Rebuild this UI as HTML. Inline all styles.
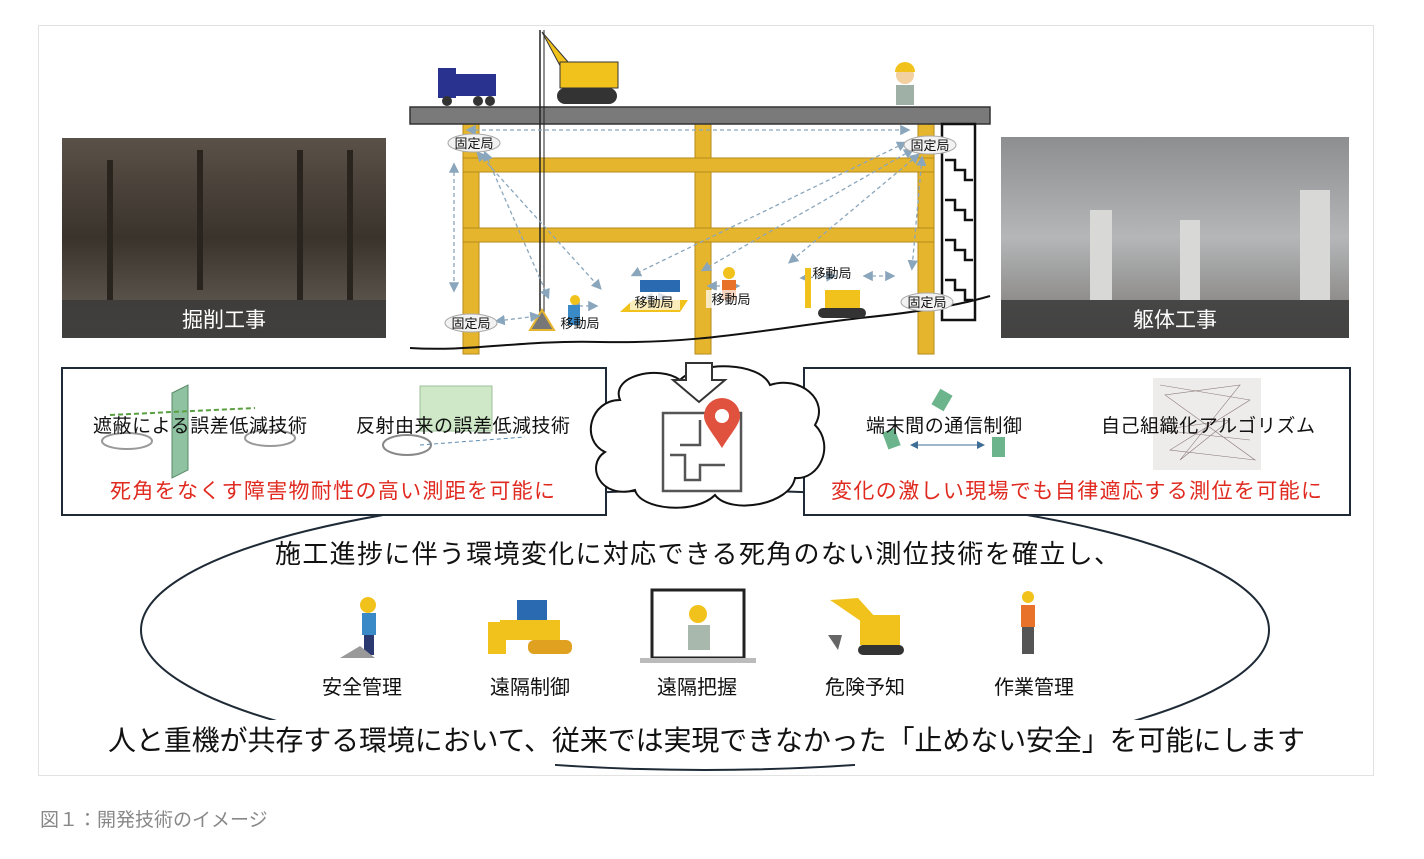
<!DOCTYPE html>
<html><head><meta charset="utf-8"><style>
html,body{margin:0;padding:0;background:#fff;}
svg text{font-family:"Liberation Sans","Noto Sans CJK JP",sans-serif;}
</style></head><body>
<svg width="1424" height="854" viewBox="0 0 1424 854" xmlns="http://www.w3.org/2000/svg">
<defs>
<marker id="a" markerWidth="8" markerHeight="8" refX="6" refY="4" orient="auto-start-reverse"><path d="M0,0L8,4L0,8z" fill="#8aa6bc"/></marker>
<marker id="b" markerWidth="8" markerHeight="8" refX="6" refY="4" orient="auto-start-reverse"><path d="M0,0L8,4L0,8z" fill="#3e6d96"/></marker>
<linearGradient id="pl" x1="0" y1="0" x2="0" y2="1"><stop offset="0" stop-color="#5a5148"/><stop offset="0.5" stop-color="#3a332c"/><stop offset="1" stop-color="#6a645c"/></linearGradient>
<linearGradient id="pr" x1="0" y1="0" x2="0" y2="1"><stop offset="0" stop-color="#8c8e90"/><stop offset="0.5" stop-color="#b4b6b8"/><stop offset="1" stop-color="#7a7672"/></linearGradient>
</defs>
<rect x="38.5" y="25.5" width="1335" height="750" fill="#fff" stroke="#e2e2e2"/>

<rect x="62" y="138" width="324" height="200" fill="url(#pl)"/>
<g stroke="#2a241e" stroke-width="6"><line x1="110" y1="160" x2="110" y2="300"/><line x1="200" y1="150" x2="200" y2="290"/><line x1="300" y1="150" x2="300" y2="300"/><line x1="350" y1="150" x2="350" y2="300"/></g>
<rect x="62" y="300" width="324" height="38" fill="#3a3a3a" opacity="0.85"/>
<text x="224" y="327" font-size="21" fill="#fff" text-anchor="middle">掘削工事</text>
<rect x="1001" y="137" width="348" height="201" fill="url(#pr)"/>
<g fill="#d8d8d6"><rect x="1090" y="210" width="22" height="90"/><rect x="1180" y="220" width="20" height="80"/><rect x="1300" y="190" width="30" height="110"/></g>
<rect x="1001" y="300" width="348" height="38" fill="#3a3a3a" opacity="0.85"/>
<text x="1175" y="327" font-size="21" fill="#fff" text-anchor="middle">躯体工事</text>

<g fill="#e6b52e" stroke="#b58a1a" stroke-width="1">
<rect x="463" y="124" width="16" height="230"/><rect x="695" y="124" width="16" height="230"/><rect x="918" y="124" width="16" height="230"/>
<rect x="463" y="158" width="471" height="14"/><rect x="463" y="228" width="471" height="14"/>
</g>
<rect x="410" y="107" width="580" height="17" fill="#7a7a7a" stroke="#333" stroke-width="1.5"/>
<g fill="none" stroke="#111" stroke-width="2.5"><rect x="942" y="124" width="33" height="196"/>
<path d="M945,160h10v10h10v10h8 M945,200h10v10h10v10h8 M945,240h10v10h10v10h8 M945,280h10v10h10v10h8"/></g>
<path d="M410,348 C470,352 520,340 600,342 C700,344 760,330 860,318 C920,312 960,305 990,296" fill="none" stroke="#111" stroke-width="2"/>
<line x1="540" y1="30" x2="540" y2="325" stroke="#222" stroke-width="1.5"/><line x1="544" y1="30" x2="544" y2="325" stroke="#222" stroke-width="1"/>
<polygon points="530,330 542,310 554,330" fill="#777" stroke="#e6b52e" stroke-width="2"/>
<path d="M542,32 L575,70 L565,75 Z" fill="#f2c21c" stroke="#333"/>
<rect x="560" y="62" width="58" height="26" fill="#f2c21c" stroke="#333"/>
<rect x="557" y="88" width="60" height="16" rx="8" fill="#333"/>
<rect x="438" y="68" width="18" height="30" fill="#2a3290"/><rect x="456" y="74" width="40" height="22" fill="#2a3290"/>
<circle cx="447" cy="101" r="5" fill="#333"/><circle cx="478" cy="101" r="5" fill="#333"/><circle cx="490" cy="101" r="5" fill="#333"/>
<circle cx="905" cy="75" r="9" fill="#f2d0a0"/><path d="M895,72 a10,10 0 0 1 20,0z" fill="#f2c21c"/><rect x="896" y="85" width="18" height="20" fill="#9fb0a6"/>

<g stroke="#8aa6bc" stroke-width="1.3" stroke-dasharray="4,3" fill="none" marker-start="url(#a)" marker-end="url(#a)">
<line x1="468" y1="130" x2="908" y2="130"/>
<line x1="454" y1="165" x2="454" y2="290"/>
<line x1="478" y1="153" x2="600" y2="288"/>
<line x1="485" y1="153" x2="548" y2="297"/>
<line x1="905" y1="143" x2="633" y2="275"/>
<line x1="912" y1="150" x2="703" y2="270"/>
<line x1="918" y1="155" x2="790" y2="262"/>
<line x1="922" y1="158" x2="912" y2="268"/>
<line x1="497" y1="321" x2="538" y2="316"/>
<line x1="572" y1="306" x2="596" y2="306"/>
<line x1="645" y1="298" x2="666" y2="297"/>
<line x1="709" y1="286" x2="738" y2="286"/>
<line x1="802" y1="278" x2="834" y2="276"/>
<line x1="865" y1="276" x2="893" y2="276"/>
</g>
<rect x="640" y="280" width="40" height="12" fill="#2a6ab0"/><path d="M620,312 l60,0 l8,-12 l-55,0z" fill="#f2c21c"/>
<rect x="805" y="268" width="6" height="40" fill="#f2c21c"/><rect x="825" y="290" width="35" height="18" fill="#f2c21c"/><rect x="818" y="308" width="48" height="10" rx="5" fill="#333"/>
<rect x="722" y="280" width="14" height="20" fill="#e8722a"/><circle cx="729" cy="273" r="6" fill="#f2c21c"/>
<rect x="568" y="305" width="12" height="20" fill="#3a8ac8"/><circle cx="575" cy="300" r="5" fill="#f2c21c"/>
<g font-size="13" text-anchor="middle" fill="#111">
<g fill="#f2f2f2" stroke="#aaa" stroke-width="1"><ellipse cx="474" cy="143" rx="26" ry="9"/><ellipse cx="930" cy="145" rx="26" ry="9"/><ellipse cx="471" cy="323" rx="26" ry="9"/><ellipse cx="927" cy="302" rx="26" ry="9"/></g>
<text x="474" y="148">固定局</text><text x="930" y="150">固定局</text><text x="471" y="328">固定局</text><text x="927" y="307">固定局</text>
<rect x="630" y="292" width="50" height="18" fill="#fff" opacity="0.7"/><rect x="706" y="290" width="50" height="18" fill="#fff" opacity="0.7"/>
<text x="654" y="307">移動局</text><text x="731" y="304">移動局</text><text x="832" y="278">移動局</text><text x="580" y="328">移動局</text>
</g>

<ellipse cx="705" cy="630" rx="564" ry="140" fill="none" stroke="#1e2a36" stroke-width="2"/>
<rect x="100" y="720" width="1215" height="40" fill="#fff"/>
<rect x="100" y="755" width="455" height="20" fill="#fff"/>
<rect x="855" y="755" width="460" height="20" fill="#fff"/>
<rect x="62" y="368" width="544" height="147" fill="#fff" stroke="#1e2a36" stroke-width="2"/>
<rect x="804" y="368" width="546" height="147" fill="#fff" stroke="#1e2a36" stroke-width="2"/>
<polygon points="172,393 188,385 188,470 172,478" fill="#8fc2a0" stroke="#5a8a6a"/>
<line x1="110" y1="415" x2="255" y2="408" stroke="#5aa040" stroke-dasharray="5,3" stroke-width="2"/>
<ellipse cx="127" cy="441" rx="25" ry="8" fill="none" stroke="#999" stroke-width="2"/><ellipse cx="270" cy="438" rx="25" ry="8" fill="none" stroke="#999" stroke-width="2"/>
<rect x="420" y="386" width="72" height="45" fill="#cfe8c8" stroke="#9cc09a"/>
<ellipse cx="407" cy="445" rx="24" ry="10" fill="none" stroke="#888" stroke-width="2"/>
<line x1="420" y1="445" x2="525" y2="437" stroke="#5a8ab0" stroke-dasharray="4,3"/>
<g font-size="19" fill="#111"><text x="93" y="432" textLength="214">遮蔽による誤差低減技術</text><text x="356" y="432" textLength="214">反射由来の誤差低減技術</text></g>
<text x="110" y="498" font-size="21" fill="#e02a20" textLength="445">死角をなくす障害物耐性の高い測距を可能に</text>
<g fill="#6cb48c"><rect x="935" y="391" width="14" height="18" transform="rotate(30 942 400)"/><rect x="885" y="430" width="13" height="18" transform="rotate(-20 891 439)"/><rect x="992" y="437" width="13" height="20"/></g>
<line x1="912" y1="445" x2="983" y2="445" stroke="#3e6d96" marker-start="url(#b)" marker-end="url(#b)"/>
<rect x="1153" y="378" width="108" height="92" fill="#eeeceb"/>
<g stroke="#8a7a78" stroke-width="0.6" fill="none"><path d="M1160,385 L1250,400 L1170,450 L1255,460 L1165,395 L1240,385 L1180,460 L1230,420 L1160,430 L1250,440"/></g>
<g font-size="19" fill="#111"><text x="866" y="432" textLength="156">端末間の通信制御</text><text x="1101" y="432" textLength="214">自己組織化アルゴリズム</text></g>
<text x="831" y="498" font-size="21" fill="#e02a20" textLength="491">変化の激しい現場でも自律適応する測位を可能に</text>

<path d="M620,400 C610,375 660,365 680,380 C700,360 760,362 770,385 C800,375 830,400 815,425 C835,445 820,480 795,478 C790,505 730,515 715,495 C695,515 640,510 635,490 C600,500 585,465 605,452 C580,440 590,400 620,400 Z" fill="#fff" stroke="#111" stroke-width="2"/>
<path d="M686,363 h26 v17 h13 l-26,22 l-26,-22 h13 z" fill="#fff" stroke="#333" stroke-width="2"/>
<rect x="663" y="413" width="78" height="78" fill="#fff" stroke="#555" stroke-width="2.5"/>
<path d="M670,455 h15 v25 h15 v-15 h25 M700,420 v25 h-20" fill="none" stroke="#555" stroke-width="2.5"/>
<path d="M722,448 C712,432 704,424 704,416 a18,18 0 0 1 36,0 C740,424 732,432 722,448z" fill="#e0523e"/><circle cx="722" cy="416" r="7" fill="#fff"/>

<text x="275" y="563" font-size="26" fill="#111" textLength="845">施工進捗に伴う環境変化に対応できる死角のない測位技術を確立し、</text>
<g font-size="20" fill="#111" text-anchor="middle"><text x="362" y="694">安全管理</text><text x="530" y="694">遠隔制御</text><text x="697" y="694">遠隔把握</text><text x="865" y="694">危険予知</text><text x="1034" y="694">作業管理</text></g>
<circle cx="368" cy="605" r="8" fill="#f2c21c"/><rect x="362" y="613" width="14" height="22" fill="#3a8ac8"/><rect x="364" y="635" width="10" height="20" fill="#2a3a70"/><path d="M340,658 l20,-12 l15,12z" fill="#999"/>
<rect x="517" y="600" width="30" height="20" fill="#2a6ab0"/><rect x="500" y="620" width="60" height="20" fill="#f2c21c"/><rect x="528" y="640" width="44" height="14" rx="6" fill="#e0a020"/><path d="M488,622 l18,0 l0,32 l-18,0z" fill="#f2c21c"/>
<rect x="652" y="590" width="92" height="68" fill="#fff" stroke="#222" stroke-width="3"/><rect x="640" y="658" width="116" height="5" fill="#bbb"/>
<circle cx="698" cy="614" r="9" fill="#f2c21c"/><rect x="688" y="625" width="22" height="25" fill="#a8b8ac"/>
<path d="M830,600 l28,-2 l18,20 l-8,8z" fill="#f2c21c"/><rect x="860" y="615" width="40" height="30" fill="#f2c21c"/><rect x="858" y="645" width="46" height="10" rx="5" fill="#333"/><path d="M828,635 l14,0 l-4,15z" fill="#666"/>
<circle cx="1028" cy="597" r="6" fill="#f2c21c"/><rect x="1021" y="605" width="14" height="22" fill="#e8722a"/><rect x="1022" y="627" width="12" height="27" fill="#555"/>
<text x="108" y="750" font-size="28" fill="#111" textLength="1197">人と重機が共存する環境において、従来では実現できなかった「止めない安全」を可能にします</text>
<line x1="38" y1="775.5" x2="1374" y2="775.5" stroke="#e2e2e2"/>

<text x="40" y="826" font-size="19" fill="#888">図１：開発技術のイメージ</text>
</svg>
</body></html>
